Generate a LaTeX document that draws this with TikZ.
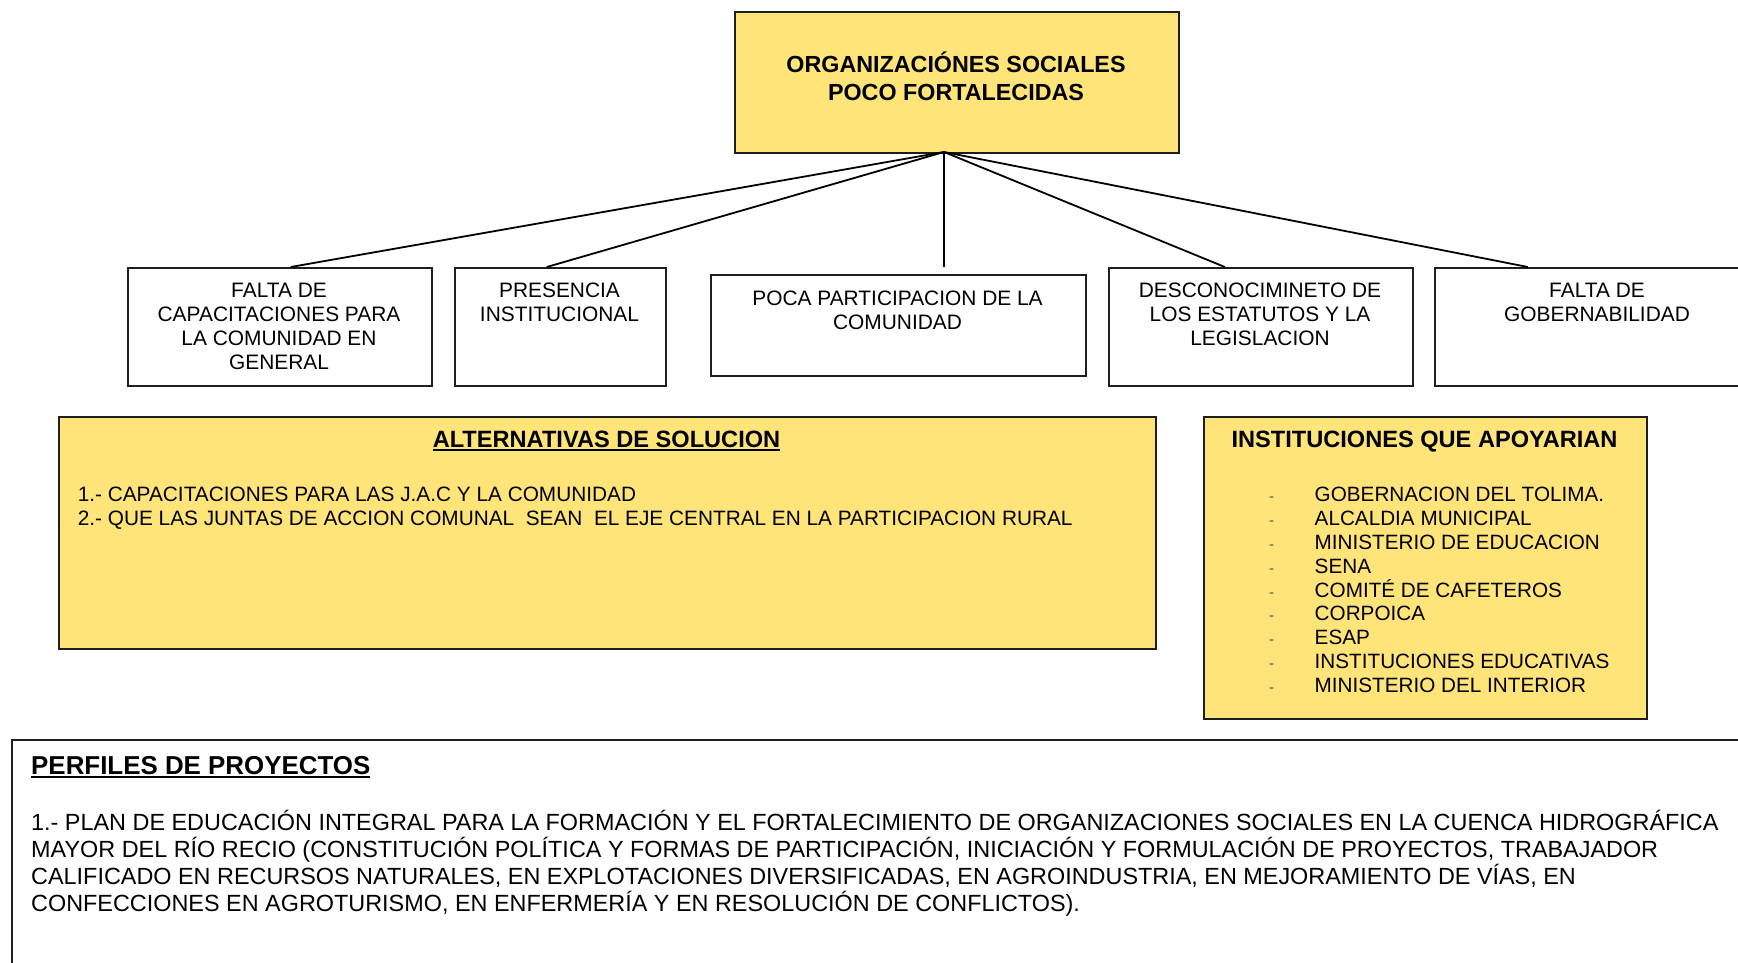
\documentclass[tikz,border=0pt]{standalone}
\usepackage{fontspec}
\setmainfont{Liberation Sans}
\definecolor{yel}{RGB}{255,228,122}
\definecolor{edge}{RGB}{30,30,30}
\newcommand\ulhead[1]{\setbox0\hbox{#1}\leavevmode\rlap{\rule[-3.6pt]{\wd0}{2pt}}\box0}
\newcommand\bul{\makebox[46.5pt][l]{\hspace*{1pt}{\fontsize{15}{15}\selectfont\color{black!70}-}}}
\begin{document}
\begin{tikzpicture}[x=1pt,y=-1pt,
  box/.style={draw=edge, line width=1.6pt, inner sep=0pt, anchor=north west},
  ybox/.style={box, fill=yel},
  lab/.style={inner sep=0pt, align=center, anchor=base, font=\fontsize{20.9}{23.9}\selectfont},
  head/.style={inner sep=0pt, anchor=base, font=\bfseries\fontsize{23.6}{26.6}\selectfont},
  body/.style={inner sep=0pt, align=left, anchor=base west, font=\fontsize{20.8}{24.4}\selectfont},
  conn/.style={line width=1.8pt, black}]
\clip (0,0) rectangle (1738,963);
\fill[white] (0,0) rectangle (1738,963);

% top box
\node[ybox, minimum width=444pt, minimum height=141pt] (top) at (734,11) {};
\node[head, align=center, font=\bfseries\fontsize{23.3}{27.7}\selectfont] (toptxt) at (956,100.3) {ORGANIZACIÓNES SOCIALES\\POCO FORTALECIDAS};
\coordinate (hub) at (944,152);

% row of boxes
\node[box, minimum width=304pt, minimum height=118pt] (b1) at (127,267) {};
\node[box, minimum width=211pt, minimum height=118pt] (b2) at (454,267) {};
\node[box, minimum width=375pt, minimum height=101pt] (b3) at (710,274) {};
\node[box, minimum width=304pt, minimum height=118pt] (b4) at (1108,267) {};
\node[box, minimum width=330pt, minimum height=118pt] (b5) at (1434,267) {};

\node[lab] (t1) at (279,369) {FALTA DE\\CAPACITACIONES PARA\\LA COMUNIDAD EN\\GENERAL};
\node[lab] (t2) at (559.5,321) {PRESENCIA\\INSTITUCIONAL};
\node[lab] (t3) at (897.5,329) {POCA PARTICIPACION DE LA\\COMUNIDAD};
\node[lab] (t4) at (1260,345) {DESCONOCIMINETO DE\\LOS ESTATUTOS Y LA\\LEGISLACION};
\node[lab] (t5) at (1597,321) {FALTA DE\\GOBERNABILIDAD};

% connectors
\coordinate (c3) at (hub |- b1.north);
\draw[conn] (hub) -- ([xshift=11pt]b1.north);
\draw[conn] (hub) -- ([xshift=-13.5pt]b2.north);
\draw[conn] (hub) -- (c3);
\draw[conn] (hub) -- ([xshift=-36pt]b4.north);
\draw[conn] (hub) -- ([xshift=-72pt]b5.north);

% alternativas
\node[ybox, minimum width=1097pt, minimum height=232pt] (alt) at (58,416) {};
\node[head] (alth) at (606.5,447.4) {\ulhead{ALTERNATIVAS DE SOLUCION}};
\node[body] (altb) at (77.6,525.8) {1.- CAPACITACIONES PARA LAS J.A.C Y LA COMUNIDAD\\2.- QUE LAS JUNTAS DE ACCION COMUNAL\ \ SEAN\ \ EL EJE CENTRAL EN LA PARTICIPACION RURAL};

% instituciones
\node[ybox, minimum width=443pt, minimum height=302pt] (inst) at (1203,416) {};
\node[head] (insth) at (1424.5,447.4) {INSTITUCIONES QUE APOYARIAN};
\node[body, font=\fontsize{20.7}{23.84}\selectfont] (instb) at (1268,692.4) {%
\bul GOBERNACION DEL TOLIMA.\\
\bul ALCALDIA MUNICIPAL\\
\bul MINISTERIO DE EDUCACION\\
\bul SENA\\
\bul COMITÉ DE CAFETEROS\\
\bul CORPOICA\\
\bul ESAP\\
\bul INSTITUCIONES EDUCATIVAS\\
\bul MINISTERIO DEL INTERIOR};

% perfiles
\node[box, line width=2pt, fill=white, minimum width=1760pt, minimum height=260pt] (perf) at (11,739) {};
\node[head, anchor=base west, font=\bfseries\fontsize{25.9}{29}\selectfont] (perfh) at (31,774.3) {\ulhead{PERFILES DE PROYECTOS}};
\node[body, font=\fontsize{23.4}{26.97}\selectfont] (perfb) at (31,911.6) {1.- PLAN DE EDUCACIÓN INTEGRAL PARA LA FORMACIÓN Y EL FORTALECIMIENTO DE ORGANIZACIONES SOCIALES EN LA CUENCA HIDROGRÁFICA\\MAYOR DEL RÍO RECIO (CONSTITUCIÓN POLÍTICA Y FORMAS DE PARTICIPACIÓN, INICIACIÓN Y FORMULACIÓN DE PROYECTOS, TRABAJADOR\\CALIFICADO EN RECURSOS NATURALES, EN EXPLOTACIONES DIVERSIFICADAS, EN AGROINDUSTRIA, EN MEJORAMIENTO DE VÍAS, EN\\CONFECCIONES EN AGROTURISMO, EN ENFERMERÍA Y EN RESOLUCIÓN DE CONFLICTOS).};
\end{tikzpicture}
\end{document}
